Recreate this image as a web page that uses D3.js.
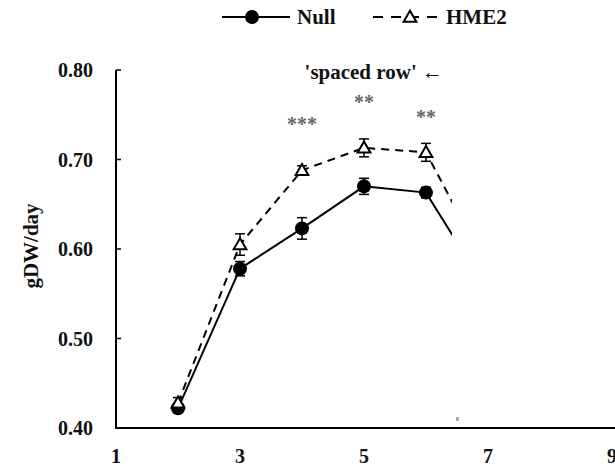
<!DOCTYPE html>
<html lang="en">
<head>
    <meta charset="UTF-8">
    <title>gDW/day</title>
    <script src="https://d3js.org/d3.v7.min.js"></script>
    <style>
        body { margin: 0; background: #fff; }
        svg text { font-family: "Liberation Serif", "Times New Roman", serif; font-weight: 700; fill: #111; }
        .tick-label { font-size: 20px; }
        .line { fill: none; stroke: #000; stroke-width: 2px; }
    </style>
</head>
<body>
    <svg id="chart" width="615" height="469"></svg>
    <script>
        // data
        var days = [2, 3, 4, 5, 6, 7];
        var nullVals = [0.422, 0.578, 0.623, 0.670, 0.663, 0.552];
        var nullErr  = [0.004, 0.008, 0.012, 0.009, 0.006, 0.008];
        var hmeVals  = [0.428, 0.605, 0.688, 0.713, 0.708, 0.577];
        var hmeErr   = [0.006, 0.012, 0.005, 0.010, 0.010, 0.008];
        var yTicks = [0.40, 0.50, 0.60, 0.70, 0.80];
        var xTicks = [1, 3, 5, 7, 9];
        var stars = [{x: 4, y: 0.732, t: "***"}, {x: 5, y: 0.756, t: "**"}, {x: 6, y: 0.740, t: "**"}];

        var svg = d3.select("#chart");

        var x = d3.scaleLinear().domain([1, 9]).range([116, 612]);
        var y = d3.scaleLinear().domain([0.40, 0.80]).range([428, 70]);

        // y axis
        svg.append("line")
            .attr("x1", x(1)).attr("x2", x(1))
            .attr("y1", y(0.80)).attr("y2", y(0.40))
            .attr("stroke", "#000").attr("stroke-width", 2);
        svg.selectAll(".ytick").data(yTicks.slice(1)).enter().append("line")
            .attr("x1", x(1)).attr("x2", x(1) + 5)
            .attr("y1", d => y(d)).attr("y2", d => y(d))
            .attr("stroke", "#000").attr("stroke-width", 1.5);
        svg.selectAll(".ylab").data(yTicks).enter().append("text")
            .attr("class", "tick-label")
            .attr("x", 93).attr("y", d => y(d) + 7)
            .attr("text-anchor", "end")
            .text(d => d3.format(".2f")(d));

        // x axis
        svg.append("line")
            .attr("x1", x(1) - 1).attr("x2", 615)
            .attr("y1", y(0.40)).attr("y2", y(0.40))
            .attr("stroke", "#000").attr("stroke-width", 2);
        svg.selectAll(".xlab").data(xTicks).enter().append("text")
            .attr("class", "tick-label")
            .attr("x", d => x(d)).attr("y", 463)
            .attr("text-anchor", "middle")
            .text(d => d);

        // y title
        svg.append("text")
            .attr("transform", "translate(38,246) rotate(-90)")
            .attr("text-anchor", "middle")
            .style("font-size", "21px")
            .text("gDW/day");

        // clip: the figure is cut off on the right
        svg.append("clipPath").attr("id", "clip")
            .append("rect").attr("x", 0).attr("y", 0).attr("width", 452).attr("height", 469);
        var plot = svg.append("g").attr("clip-path", "url(#clip)");

        var nullData = days.map((d, i) => ({x: d, y: nullVals[i], e: nullErr[i]}));
        var hmeData = days.map((d, i) => ({x: d, y: hmeVals[i], e: hmeErr[i]}));

        var line = d3.line().x(d => x(d.x)).y(d => y(d.y));

        function errorBars(data) {
            var g = plot.append("g");
            data.forEach(function(d) {
                g.append("line").attr("x1", x(d.x)).attr("x2", x(d.x))
                    .attr("y1", y(d.y + d.e)).attr("y2", y(d.y - d.e))
                    .attr("stroke", "#000").attr("stroke-width", 1.5);
                [d.y + d.e, d.y - d.e].forEach(function(v) {
                    g.append("line").attr("x1", x(d.x) - 5).attr("x2", x(d.x) + 5)
                        .attr("y1", y(v)).attr("y2", y(v))
                        .attr("stroke", "#000").attr("stroke-width", 1.5);
                });
            });
        }

        errorBars(hmeData);
        errorBars(nullData);

        plot.append("path").datum(hmeData)
            .attr("class", "line")
            .attr("stroke-dasharray", "8,6")
            .attr("d", line);
        plot.append("path").datum(nullData)
            .attr("class", "line")
            .attr("d", line);

        var tri = d3.symbol().type(d3.symbolTriangle).size(70);
        plot.selectAll(".nullpt").data(nullData).enter().append("circle")
            .attr("cx", d => x(d.x)).attr("cy", d => y(d.y))
            .attr("r", 7).attr("fill", "#000");
        plot.selectAll(".hmept").data(hmeData).enter().append("path")
            .attr("d", tri)
            .attr("transform", d => "translate(" + x(d.x) + "," + (y(d.y) + 1) + ")")
            .attr("fill", "#fff").attr("stroke", "#000").attr("stroke-width", 2);

        // stray grey speck in the source image
        svg.append("rect")
            .attr("x", x(6.5) - 1).attr("y", y(0.41) - 2)
            .attr("width", 3).attr("height", 4)
            .attr("fill", "#aaa");

        // significance stars
        svg.selectAll(".star").data(stars).enter().append("text")
            .attr("x", d => x(d.x)).attr("y", d => y(d.y))
            .attr("text-anchor", "middle")
            .style("font-size", "20px").style("fill", "#666")
            .text(d => d.t);

        svg.append("text")
            .attr("x", 443).attr("y", 79)
            .attr("text-anchor", "end")
            .style("font-size", "21px")
            .text("'spaced row' \u2190");

        // legend
        var lg = svg.append("g");
        lg.append("line").attr("x1", 222).attr("x2", 290).attr("y1", 17).attr("y2", 17)
            .attr("stroke", "#000").attr("stroke-width", 2);
        lg.append("circle").attr("cx", 252).attr("cy", 17).attr("r", 7).attr("fill", "#000");
        lg.append("text").attr("x", 297).attr("y", 24).style("font-size", "21px").text("Null");
        lg.append("line").attr("x1", 373).attr("x2", 440).attr("y1", 17).attr("y2", 17)
            .attr("stroke", "#000").attr("stroke-width", 2).attr("stroke-dasharray", "10,8");
        lg.append("path").attr("d", tri)
            .attr("transform", "translate(410,18)")
            .attr("fill", "#fff").attr("stroke", "#000").attr("stroke-width", 2);
        lg.append("text").attr("x", 446).attr("y", 24).style("font-size", "21px").text("HME2");
    </script>
</body>
</html>
